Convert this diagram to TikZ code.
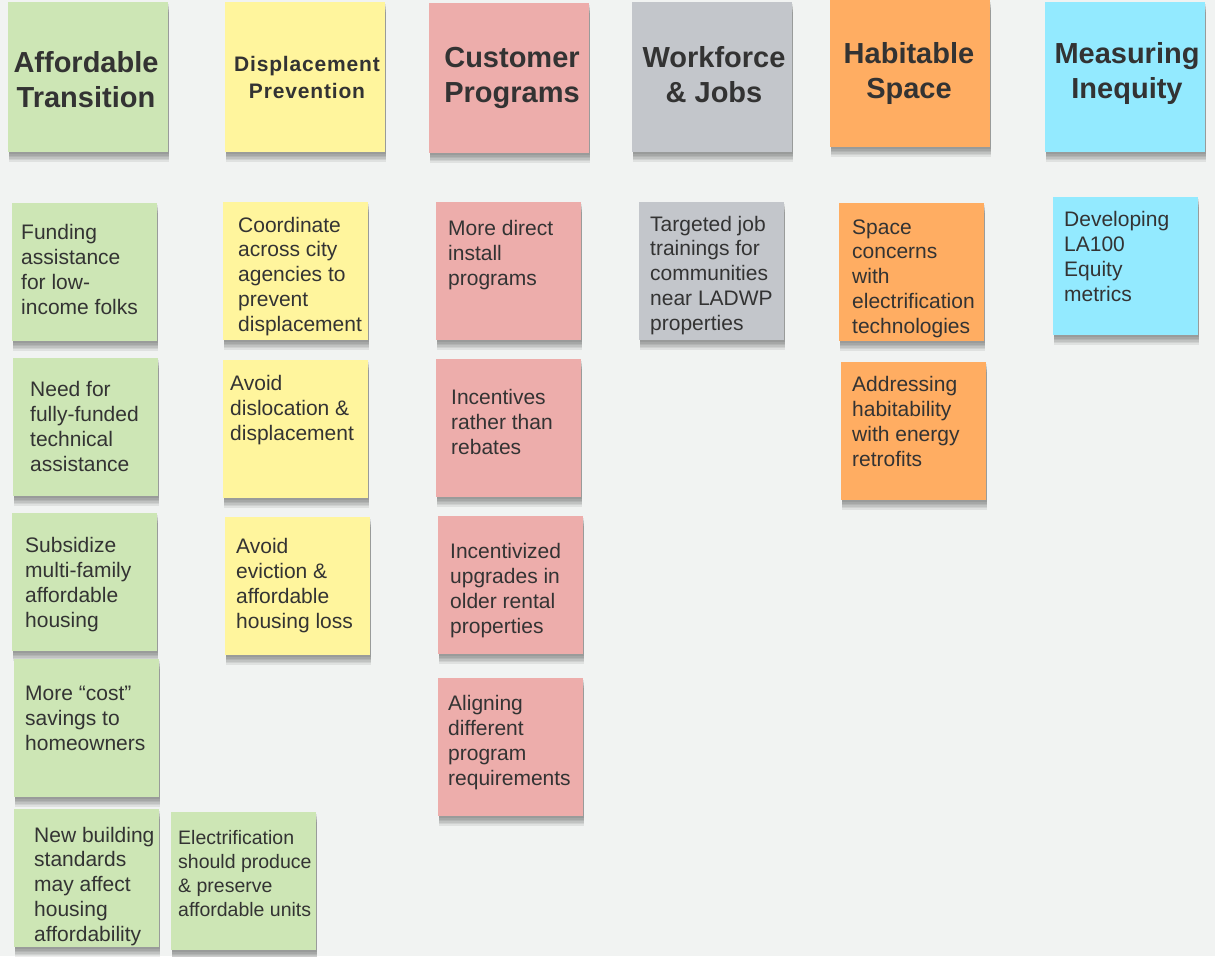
\documentclass[tikz,border=0pt]{standalone}
\usepackage{fontspec}
\setmainfont{Liberation Sans}
\newfontfamily\trackedfont[LetterSpace=4]{Liberation Sans}
\usetikzlibrary{shadows}

\definecolor{bgpaper}{HTML}{F1F3F2}
\definecolor{inkgray}{HTML}{333333}
\definecolor{notegreen}{HTML}{CDE6B5}
\definecolor{noteyellow}{HTML}{FFF59D}
\definecolor{notepink}{HTML}{EDADAB}
\definecolor{notegray}{HTML}{C3C6CB}
\definecolor{noteorange}{HTML}{FFAD62}
\definecolor{notecyan}{HTML}{93EAFF}

\tikzset{
  soft/.style={general shadow={shadow xshift=1pt, shadow yshift=#1, opacity=.07, fill=black}},
  note/.style={anchor=north west, inner sep=0, minimum width=145pt, minimum height=138pt,
    soft=-10pt, soft=-8pt, soft=-6.5pt, soft=-5pt, soft=-3.5pt, soft=-2pt},
  head/.style={note, minimum width=160pt, minimum height=150pt},
  body/.style={anchor=base west, inner sep=0, align=left, text=inkgray,
    font=\fontsize{21}{24.7}\selectfont},
  title/.style={anchor=base, inner sep=0, align=center, text=inkgray,
    font=\fontsize{29}{35}\selectfont\bfseries},
}

\begin{document}
\begin{tikzpicture}[x=1pt, y=-1pt]
\fill[bgpaper] (0,0) rectangle (1215,956);

% header notes (text placed by the baseline of its last line)
\node[head, fill=notegreen] (hAff) at (8,2) {};
\node[head, fill=noteyellow] (hDis) at (225,2) {};
\node[head, fill=notepink] (hCus) at (429,3) {};
\node[head, fill=notegray] (hWork) at (632,2) {};
\node[head, fill=noteorange, minimum height=147pt] (hHab) at (830,0) {};
\node[head, fill=notecyan] (hMeas) at (1045,2) {};

\node[title] (hAff-t) at (86,107) {Affordable\\Transition};
\node[title, font=\fontsize{21}{27}\selectfont\trackedfont\bfseries] (hDis-t) at (307,98) {Displacement\\Prevention};
\node[title] (hCus-t) at (512,102) {Customer\\Programs};
\node[title] (hWork-t) at (714,102) {Workforce\\\& Jobs};
\node[title] (hHab-t) at (909,98) {Habitable\\Space};
\node[title] (hMeas-t) at (1127,98) {Measuring\\Inequity};

% affordable transition
\node[note, fill=notegreen] (fund) at (12,203) {};
\node[note, fill=notegreen] (need) at (13,358) {};
\node[note, fill=notegreen] (subs) at (12,513) {};
\node[note, fill=notegreen] (cost) at (14,659) {};
\node[note, fill=notegreen] (newb) at (14,809) {};
\node[note, fill=notegreen] (elec) at (171,812) {};
\node[body] (fund-t) at (21,314) {Funding\\assistance\\for low-\\income folks};
\node[body] (need-t) at (30,471) {Need for\\fully-funded\\technical\\assistance};
\node[body] (subs-t) at (25,627) {Subsidize\\multi-family\\affordable\\housing};
\node[body] (cost-t) at (25,750) {More “cost”\\savings to\\homeowners};
\node[body] (newb-t) at (34,941) {New building\\standards\\may affect\\housing\\affordability};
\node[body, font=\fontsize{19.5}{24}\selectfont] (elec-t) at (178,916) {Electrification\\should produce\\\& preserve\\affordable units};

% displacement prevention
\node[note, fill=noteyellow] (coord) at (223,202) {};
\node[note, fill=noteyellow] (disl) at (223,360) {};
\node[note, fill=noteyellow] (evic) at (225,517) {};
\node[body] (coord-t) at (238,331) {Coordinate\\across city\\agencies to\\prevent\\displacement};
\node[body] (disl-t) at (230,440) {Avoid\\dislocation \&\\displacement};
\node[body] (evic-t) at (236,628) {Avoid\\eviction \&\\affordable\\housing loss};

% customer programs
\node[note, fill=notepink] (direct) at (436,202) {};
\node[note, fill=notepink] (incent) at (436,359) {};
\node[note, fill=notepink] (upgr) at (438,516) {};
\node[note, fill=notepink] (align) at (438,678) {};
\node[body] (direct-t) at (448,285) {More direct\\install\\programs};
\node[body] (incent-t) at (451,454) {Incentives\\rather than\\rebates};
\node[body] (upgr-t) at (450,633) {Incentivized\\upgrades in\\older rental\\properties};
\node[body] (align-t) at (448,785) {Aligning\\different\\program\\requirements};

% workforce, habitable space, inequity
\node[note, fill=notegray] (train) at (639,202) {};
\node[note, fill=noteorange] (space) at (839,203) {};
\node[note, fill=noteorange] (retro) at (841,362) {};
\node[note, fill=notecyan] (equity) at (1053,197) {};
\node[body] (train-t) at (650,330) {Targeted job\\trainings for\\communities\\near LADWP\\properties};
\node[body] (space-t) at (852,333) {Space\\concerns\\with\\electrification\\technologies};
\node[body] (retro-t) at (852,466) {Addressing\\habitability\\with energy\\retrofits};
\node[body] (equity-t) at (1064,301) {Developing\\LA100\\Equity\\metrics};
\end{tikzpicture}
\end{document}
